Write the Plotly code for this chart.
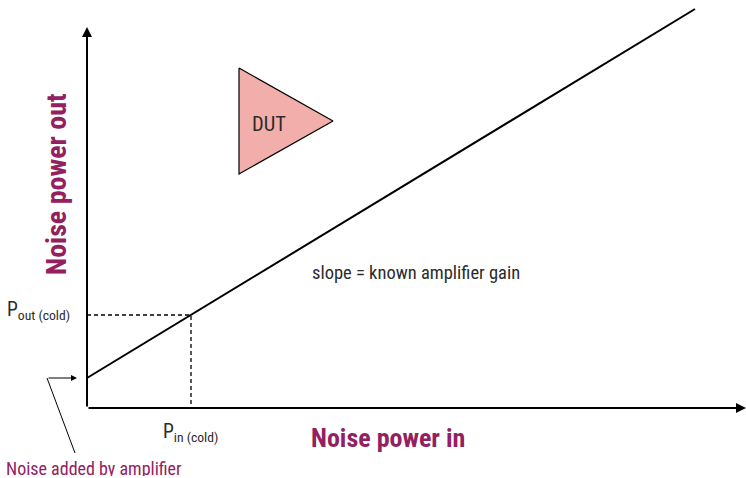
import plotly.graph_objects as go

# axis units: 0,0 is the origin of the drawn axes
gain_x = [0, 608]
gain_y = [30, 399]
cold_x = [0, 104, 104]
cold_y = [93, 93, 0]
dut_x = [152, 152, 246, 152]
dut_y = [340, 234, 287, 340]
leader_x = [-40, -12]
leader_y = [30, -45]

MAGENTA = '#93215f'
DARK = '#2b2b2b'
NARROW = 'Roboto Condensed, Roboto'

fig = go.Figure()
fig.add_trace(go.Scatter(x=dut_x, y=dut_y, mode='lines', fill='toself', fillcolor='#f2aeaa',
                         line=dict(color='black', width=1.2)))
fig.add_trace(go.Scatter(x=gain_x, y=gain_y, mode='lines', line=dict(color='black', width=2)))
fig.add_trace(go.Scatter(x=cold_x, y=cold_y, mode='lines', line=dict(color='black', width=1.3, dash='4px,3px')))
fig.add_trace(go.Scatter(x=leader_x, y=leader_y, mode='lines', line=dict(color='black', width=1)))


def arrow(x0, y0, x1, y1, width):
    fig.add_annotation(x=x1, y=y1, ax=x0, ay=y0, xref='x', yref='y', axref='x', ayref='y',
                       text='', showarrow=True, arrowhead=2, arrowsize=1, arrowwidth=width,
                       arrowcolor='black')


def label(x, y, text, size, color=DARK, bold=False, angle=0, anchor='left', height=None):
    if bold:
        text = '<b>' + text + '</b>'
    fig.add_annotation(x=x, y=y, text=text, showarrow=False, xanchor=anchor, yanchor='middle',
                       textangle=angle, height=height, borderpad=0,
                       font=dict(family=NARROW, size=size, color=color))


arrow(0, 0, 0, 381, 2)
arrow(0, 0, 659, 0, 2)
arrow(-40, 30, -10, 30, 1.2)

label(164, 284, 'DUT', 20.5)
label(224, 135, 'slope = known amplifier gain', 18.5)
label(-81, 98, 'P<sub>out (cold)</sub>', 19.5)
label(75, -24, 'P<sub>in (cold)</sub>', 19.5)
label(-82, -60, 'Noise added by amplifier', 18, color=MAGENTA, height=15)
label(223, -30, 'Noise power in', 26, color=MAGENTA, bold=True)
label(-31, 224, 'Noise power out', 28, color=MAGENTA, bold=True, angle=-90, anchor='center')

fig.update_layout(
    width=746, height=478,
    margin=dict(l=0, r=0, t=0, b=0),
    paper_bgcolor='white', plot_bgcolor='white',
    showlegend=False,
    xaxis=dict(range=[-87, 659], visible=False),
    yaxis=dict(range=[-70, 408], visible=False),
)
fig.write_html("out.html", config={'displayModeBar': False},
               post_script="document.body.style.margin='0';")
